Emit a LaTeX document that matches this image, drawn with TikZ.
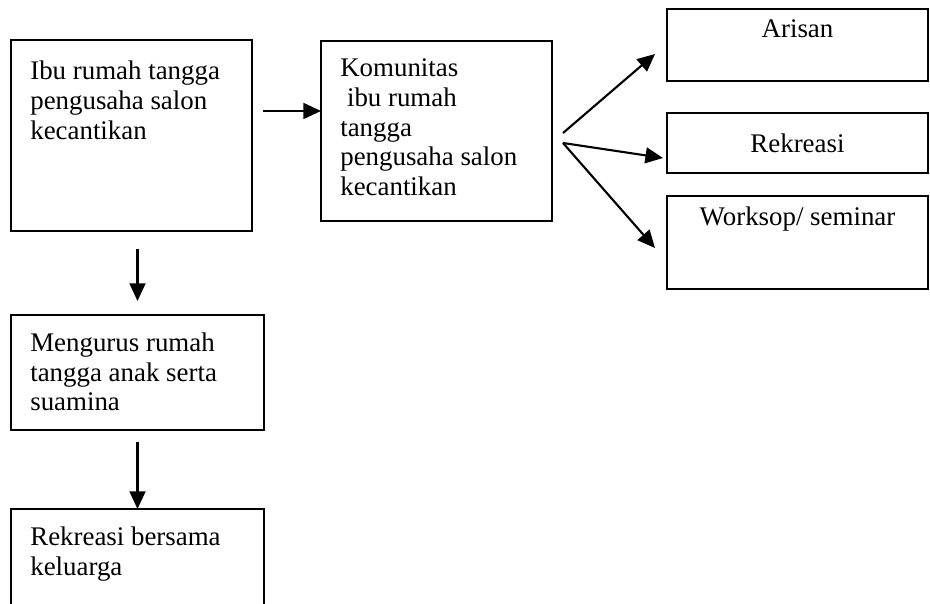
\documentclass[tikz,border=0pt]{standalone}
\usepackage{fontspec}
\setmainfont{Liberation Serif}
\usetikzlibrary{arrows.meta,calc}

\newcommand{\px}{0.02cm}

\tikzset{
  kotak/.style={draw, line width=1.2pt, anchor=north west, inner sep=0pt, outer sep=0pt},
  isi/.style={anchor=north west, align=left, inner xsep=11pt, inner ysep=10pt, outer sep=0pt},
  isitengah/.style={anchor=north, align=center, inner sep=6pt, outer sep=0pt},
  panah/.style={line width=1.2pt, -{Triangle[length=10pt,width=9pt]}}
}

\begin{document}
\begin{tikzpicture}[x=0.02cm, y=-0.02cm, every node/.style={font=\fontsize{15.3}{17}\selectfont}]
  \clip (0,0) rectangle (930,604);
  % kolom kiri
  \node[kotak, minimum width=241*\px, minimum height=191*\px,
        label={[isi, inner ysep=12pt]north west:Ibu rumah tangga\\pengusaha salon\\kecantikan}] (ibu) at (11,40) {};
  \node[kotak, minimum width=253*\px, minimum height=115*\px,
        label={[isi]north west:Mengurus rumah\\tangga anak serta\\suamina}] (urus) at (11,315) {};
  \node[kotak, minimum width=253*\px, minimum height=130*\px,
        label={[isi]north west:Rekreasi bersama\\keluarga}] (keluarga) at (11,509) {};
  % komunitas
  \node[kotak, minimum width=231*\px, minimum height=180*\px,
        label={[isi]north west:Komunitas\\\hspace*{.25em}ibu rumah\\tangga\\pengusaha salon\\kecantikan}] (komunitas) at (321,41) {};
  % kegiatan
  \node[kotak, minimum width=261*\px, minimum height=72*\px,
        label={[isitengah]north:Arisan}] (arisan) at (667,9) {};
  \node[kotak, minimum width=261*\px, minimum height=60*\px] (rekreasi) at (667,113) {Rekreasi};
  \node[kotak, minimum width=261*\px, minimum height=93*\px,
        label={[isitengah]north:Worksop/ seminar}] (worksop) at (667,196) {};

  % panah
  \draw[panah] ($(ibu.north east)+(11,71)$) -- ($(komunitas.north west)+(0,70)$);
  \draw[panah] ($(komunitas.north east)+(11,92)$) -- ($(arisan.north west)+(-12,45)$);
  \draw[panah] ($(komunitas.north east)+(11,102)$) -- ($(rekreasi.west)+(-4,15)$);
  \draw[panah] ($(komunitas.north east)+(11,102)$) -- ($(worksop.north west)+(-12,52)$);
  \draw[panah] ($(urus.north)+(0,-66)$) -- ($(urus.north)+(0,-14)$);
  \draw[panah] ($(urus.south)+(0,12)$) -- (keluarga.north);
\end{tikzpicture}
\end{document}
